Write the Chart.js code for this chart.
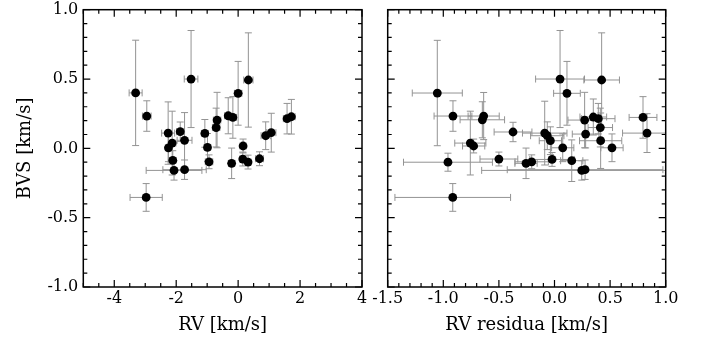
<!DOCTYPE html>
<html>
<head>
<meta charset="utf-8">
<script src="https://cdn.jsdelivr.net/npm/chart.js@4"></script>
<style>
  body { margin: 0; background: #ffffff; }
  #wrap { position: relative; width: 706px; height: 342px; }
  canvas { position: absolute; top: 0; }
</style>
</head>
<body>
<div id="wrap">
  <canvas id="left" width="380" height="342" style="left:0"></canvas>
  <canvas id="right" width="344" height="342" style="left:362px"></canvas>
</div>
<script>
// left panel: BVS vs RV
const rvValues = [-3.31, -2.95, -1.52, -2.26, -2.13, -2.25, -1.87, -1.73, -2.11, -2.07,
  -1.73, -2.97, -1.075, -0.99, -0.94, -0.68, -0.71, -0.32, -0.17, 0.0,
  0.33, -0.21, 0.16, 0.15, 0.32, 0.69, 0.89, 1.07, 1.58, 1.72];
const rvErrors = [0.21, 0.14, 0.22, 0.21, 0.12, 0.1, 0.12, 0.24, 0.1, 0.9,
  0.7, 0.52, 0.1, 0.1, 0.12, 0.12, 0.12, 0.12, 0.12, 0.12,
  0.15, 0.1, 0.1, 0.1, 0.1, 0.13, 0.15, 0.15, 0.12, 0.12];
const bvsLeft = [0.40, 0.233, 0.50, 0.11, 0.038, 0.004, 0.12, 0.058, -0.087, -0.159,
  -0.154, -0.354, 0.108, 0.007, -0.097, 0.204, 0.15, 0.235, 0.223, 0.397,
  0.493, -0.108, 0.017, -0.077, -0.099, -0.075, 0.091, 0.113, 0.214, 0.228];
const bvsErrLeft = [0.38, 0.11, 0.35, 0.225, 0.23, 0.1, 0.07, 0.2, 0.07, 0.07,
  0.07, 0.1, 0.1, 0.1, 0.05, 0.2, 0.14, 0.13, 0.15, 0.23,
  0.34, 0.11, 0.05, 0.05, 0.05, 0.05, 0.1, 0.14, 0.11, 0.125];

// right panel: BVS vs RV residua
const residValues = [-1.054, -0.913, -0.637, -0.649, -0.757, -0.727, -0.958, -0.915, -0.373, -0.5,
  -0.256, -0.205, 0.05, 0.424, 0.112, 0.271, 0.349, 0.394, 0.796, 0.832,
  0.412, 0.28, 0.415, 0.517, -0.088, -0.065, -0.037, 0.074, -0.022, 0.155,
  0.245, 0.275];
const residErrors = [0.225, 0.17, 0.14, 0.2, 0.14, 0.1, 0.4, 0.52, 0.17, 0.17,
  0.1, 0.15, 0.22, 0.16, 0.12, 0.15, 0.12, 0.15, 0.125, 0.22,
  0.11, 0.12, 0.19, 0.1, 0.2, 0.15, 0.1, 0.1, 0.2, 0.1,
  0.9, 0.7];
const bvsRight = [0.399, 0.233, 0.233, 0.206, 0.038, 0.017, -0.10, -0.354, 0.118, -0.077,
  -0.108, -0.097, 0.50, 0.493, 0.397, 0.204, 0.226, 0.214, 0.223, 0.11,
  0.15, 0.103, 0.055, 0.004, 0.11, 0.091, 0.055, 0.004, -0.08, -0.089,
  -0.159, -0.154];
const bvsErrRight = [0.38, 0.11, 0.17, 0.13, 0.23, 0.05, 0.065, 0.1, 0.07, 0.05,
  0.11, 0.05, 0.35, 0.34, 0.23, 0.2, 0.13, 0.11, 0.15, 0.14,
  0.14, 0.1, 0.2, 0.1, 0.23, 0.1, 0.1, 0.1, 0.05, 0.15,
  0.07, 0.07];

const bvsTicks = [-1.0, -0.5, 0.0, 0.5, 1.0];
const rvTicks = [-4, -2, 0, 2, 4];
const residTicks = [-1.5, -1.0, -0.5, 0.0, 0.5, 1.0];

const FONT = "'DejaVu Serif', serif";

const errorBarPlugin = {
  id: "errorBarPlugin",
  beforeDatasetsDraw(chart) {
    const { ctx, chartArea, scales } = chart;
    const ds = chart.data.datasets[0];
    const cap = 3.5;
    ctx.save();
    ctx.beginPath();
    ctx.rect(chartArea.left, chartArea.top, chartArea.width, chartArea.height);
    ctx.clip();
    ctx.strokeStyle = "#939393";
    ctx.lineWidth = 1;
    ds.data.forEach((p, i) => {
      const x = scales.x.getPixelForValue(p.x);
      const y = scales.y.getPixelForValue(p.y);
      const x0 = scales.x.getPixelForValue(p.x - ds.errX[i]);
      const x1 = scales.x.getPixelForValue(p.x + ds.errX[i]);
      const y0 = scales.y.getPixelForValue(p.y - ds.errY[i]);
      const y1 = scales.y.getPixelForValue(p.y + ds.errY[i]);
      ctx.beginPath();
      ctx.moveTo(x0, y); ctx.lineTo(x1, y);
      ctx.moveTo(x0, y - cap); ctx.lineTo(x0, y + cap);
      ctx.moveTo(x1, y - cap); ctx.lineTo(x1, y + cap);
      ctx.moveTo(x, y0); ctx.lineTo(x, y1);
      ctx.moveTo(x - cap, y0); ctx.lineTo(x + cap, y0);
      ctx.moveTo(x - cap, y1); ctx.lineTo(x + cap, y1);
      ctx.stroke();
    });
    ctx.restore();
  }
};

// box around the plot plus inward major/minor ticks on all four sides
const frameTicksPlugin = {
  id: "frameTicksPlugin",
  afterDraw(chart) {
    const { ctx, chartArea, scales } = chart;
    const cfg = chart.options.plugins.frameTicksPlugin;
    const { left, right, top, bottom } = chartArea;
    ctx.save();
    ctx.strokeStyle = "#000000";
    ctx.lineWidth = 1.5;
    ctx.strokeRect(left, top, right - left, bottom - top);
    ctx.lineWidth = 1.2;
    ctx.beginPath();
    const xMin = scales.x.min, xMax = scales.x.max;
    for (let k = 0; xMin + k * cfg.xMinor <= xMax + 1e-9; k++) {
      const v = xMin + k * cfg.xMinor;
      const major = cfg.xMajor.some((m) => Math.abs(m - v) < 1e-6);
      const len = major ? 7 : 4;
      const px = scales.x.getPixelForValue(v);
      ctx.moveTo(px, bottom); ctx.lineTo(px, bottom - len);
      ctx.moveTo(px, top); ctx.lineTo(px, top + len);
    }
    const yMin = scales.y.min, yMax = scales.y.max;
    for (let k = 0; yMin + k * cfg.yMinor <= yMax + 1e-9; k++) {
      const v = yMin + k * cfg.yMinor;
      const major = cfg.yMajor.some((m) => Math.abs(m - v) < 1e-6);
      const len = major ? 7 : 4;
      const py = scales.y.getPixelForValue(v);
      ctx.moveTo(left, py); ctx.lineTo(left + len, py);
      ctx.moveTo(right, py); ctx.lineTo(right - len, py);
    }
    ctx.stroke();
    ctx.restore();
  }
};

Chart.register(errorBarPlugin, frameTicksPlugin);

function makePanel(canvas, opts) {
  return new Chart(canvas, {
    type: "scatter",
    data: {
      datasets: [{
        data: opts.xs.map((x, i) => ({ x: x, y: opts.ys[i] })),
        errX: opts.xErr,
        errY: opts.yErr,
        pointRadius: 4.4,
        pointHoverRadius: 4.4,
        pointBackgroundColor: "#000000",
        pointBorderWidth: 0,
        clip: false
      }]
    },
    options: {
      responsive: false,
      animation: false,
      devicePixelRatio: 1,
      layout: { padding: opts.padding },
      plugins: {
        legend: { display: false },
        tooltip: { enabled: false },
        frameTicksPlugin: { xMajor: opts.xTicks, xMinor: opts.xMinor, yMajor: bvsTicks, yMinor: 0.1 }
      },
      scales: {
        x: {
          type: "linear",
          min: opts.xMin,
          max: opts.xMax,
          afterBuildTicks(scale) { scale.ticks = opts.xTicks.map((v) => ({ value: v })); },
          afterFit(scale) {
            scale.height = 55;
            scale.paddingLeft = 0;
            scale.paddingRight = 0;
          },
          grid: { display: false, drawTicks: false },
          border: { display: false },
          ticks: {
            autoSkip: false,
            maxRotation: 0,
            padding: 2,
            color: "#000000",
            font: { family: FONT, size: 16 },
            callback: opts.xFormat
          },
          title: {
            display: true,
            text: opts.xTitle,
            color: "#000000",
            font: { family: FONT, size: 18 },
            padding: { top: 0, bottom: 6 }
          }
        },
        y: {
          type: "linear",
          min: -1,
          max: 1,
          display: opts.showY,
          afterBuildTicks(scale) { scale.ticks = bvsTicks.map((v) => ({ value: v })); },
          afterFit(scale) {
            scale.width = opts.yWidth;
            scale.paddingTop = 0;
            scale.paddingBottom = 0;
          },
          grid: { display: false, drawTicks: false },
          border: { display: false },
          ticks: {
            padding: 5,
            color: "#000000",
            font: { family: FONT, size: 16 },
            callback: (v) => v.toFixed(1)
          },
          title: {
            display: true,
            text: "BVS [km/s]",
            color: "#000000",
            font: { family: FONT, size: 18 },
            padding: { top: 15, bottom: 0 }
          }
        }
      }
    }
  });
}

makePanel(document.getElementById("left"), {
  xs: rvValues, ys: bvsLeft, xErr: rvErrors, yErr: bvsErrLeft,
  xMin: -5, xMax: 4, xTicks: rvTicks, xMinor: 0.5,
  xFormat: (v) => String(v),
  xTitle: "RV [km/s]",
  showY: true,
  yWidth: 83.3,
  padding: { left: 0, top: 9.7, right: 18, bottom: 0 }
});

makePanel(document.getElementById("right"), {
  xs: residValues, ys: bvsRight, xErr: residErrors, yErr: bvsErrRight,
  xMin: -1.5, xMax: 1.0, xTicks: residTicks, xMinor: 0.1,
  xFormat: (v) => v.toFixed(1),
  xTitle: "RV residua [km/s]",
  showY: false,
  yWidth: 0,
  padding: { left: 25.7, top: 9.7, right: 40.3, bottom: 0 }
});
</script>
</body>
</html>
